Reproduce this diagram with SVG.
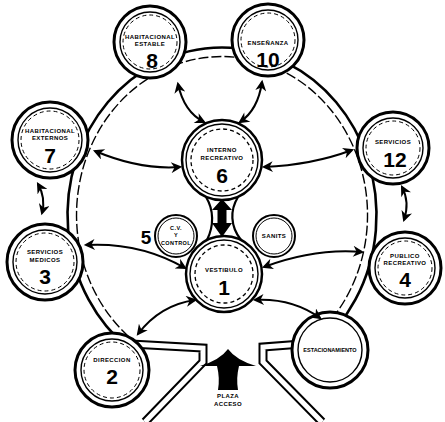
<svg xmlns="http://www.w3.org/2000/svg" width="445" height="422" viewBox="0 0 445 422">
<style>
.ro{fill:none;stroke:#000;stroke-width:2.6}
.ri{fill:none;stroke:#000;stroke-width:1.4;stroke-dasharray:10 3}
.cb{fill:none;stroke:#000;stroke-width:9;stroke-linejoin:miter}
.cw{fill:none;stroke:#fff;stroke-width:5;stroke-linejoin:miter}
.no{fill:#fff;stroke:#000;stroke-width:3}
.ni{fill:none;stroke:#000;stroke-width:1.4}
.nd{fill:none;stroke:#000;stroke-width:1;stroke-dasharray:4 3}
.lbl{font-family:"Liberation Sans",Arial,sans-serif;font-weight:bold;font-size:6px;text-anchor:middle;letter-spacing:0.4px}
.num{font-family:"Liberation Sans",Arial,sans-serif;font-weight:bold;font-size:21px;text-anchor:middle}
.arr{fill:none;stroke:#000;stroke-width:2;marker-start:url(#ah);marker-end:url(#ah)}
.neck{fill:none;stroke:#000;stroke-width:2.2}
</style>
<defs>
<marker id="ah" viewBox="0 0 10 10" refX="8" refY="5" markerWidth="12" markerHeight="11" markerUnits="userSpaceOnUse" orient="auto-start-reverse"><path d="M0,0 L10,5 L0,10 L3,5 z"/></marker>
</defs>
<g id="corridor">
<path class="ro" d="M129 348.8 A154.5 167.5 0 1 1 315 348.8"/>
<path class="ri" d="M138.5 344.8 A145.5 158.5 0 1 1 309.6 341.6"/>
<path class="cb" d="M145 422 L203 362 L203 348 L131 344"/>
<path class="cw" d="M145 422 L203 362 L203 348 L131 344"/>
<path class="cb" d="M322 422 L263 362 L263 347 L315 343"/>
<path class="cw" d="M322 422 L263 362 L263 347 L315 343"/>
</g>
<g id="n8"><circle class="no" cx="150" cy="42" r="36"/><circle class="ni" cx="150" cy="42" r="30"/><circle class="nd" cx="150" cy="42" r="27"/><text class="lbl" x="150" y="39">HABITACIONAL</text><text class="lbl" x="150" y="46">ESTABLE</text><text class="num" x="152" y="68">8</text></g>
<g id="n10"><circle class="no" cx="268" cy="40" r="36"/><circle class="ni" cx="268" cy="40" r="30"/><circle class="nd" cx="268" cy="40" r="27"/><text class="lbl" x="268" y="45">ENSEÑANZA</text><text class="num" x="268" y="67">10</text></g>
<g id="n7"><circle class="no" cx="50" cy="140" r="38"/><circle class="ni" cx="50" cy="140" r="32"/><circle class="nd" cx="50" cy="140" r="29"/><text class="lbl" x="50" y="133">HABITACIONAL</text><text class="lbl" x="50" y="140">EXTERNOS</text><text class="num" x="50" y="163">7</text></g>
<g id="n12"><circle class="no" cx="393" cy="148" r="36"/><circle class="ni" cx="393" cy="148" r="30"/><circle class="nd" cx="393" cy="148" r="27"/><text class="lbl" x="393" y="144">SERVICIOS</text><text class="num" x="395" y="167">12</text></g>
<g id="n3"><circle class="no" cx="45" cy="262" r="38"/><circle class="ni" cx="45" cy="262" r="32"/><circle class="nd" cx="45" cy="262" r="29"/><text class="lbl" x="45" y="254">SERVICIOS</text><text class="lbl" x="45" y="262">MEDICOS</text><text class="num" x="45" y="284">3</text></g>
<g id="n4"><circle class="no" cx="405" cy="268" r="36"/><circle class="ni" cx="405" cy="268" r="30"/><circle class="nd" cx="405" cy="268" r="27"/><text class="lbl" x="405" y="258">PUBLICO</text><text class="lbl" x="405" y="265">RECREATIVO</text><text class="num" x="405" y="287">4</text></g>
<g id="n2"><circle class="no" cx="112" cy="370" r="37"/><circle class="ni" cx="112" cy="370" r="31"/><circle class="nd" cx="112" cy="370" r="28"/><text class="lbl" x="112" y="362">DIRECCION</text><text class="num" x="112" y="384">2</text></g>
<g id="nest"><circle class="no" cx="330" cy="350" r="38"/><circle class="ni" cx="330" cy="350" r="32"/><text class="lbl" x="330" y="352" style="font-size:5.5px;letter-spacing:0">ESTACIONAMIENTO</text></g>
<g id="neck"><path class="neck" d="M206 197 C214 210 214 226 207 240"/><path class="neck" d="M238 197 C230 210 230 226 241 240"/></g>
<g id="n6"><circle class="no" cx="222" cy="160" r="40" style="stroke-width:2.5"/><circle class="ni" cx="222" cy="160" r="36"/><circle class="nd" cx="222" cy="160" r="31" style="stroke-width:1.3"/><text class="lbl" x="222" y="152">INTERNO</text><text class="lbl" x="222" y="160">RECREATIVO</text><text class="num" x="222" y="183">6</text></g>
<g id="n1"><circle class="no" cx="224" cy="274" r="38" style="stroke-width:2.5"/><circle class="ni" cx="224" cy="274" r="34"/><circle class="nd" cx="224" cy="274" r="29" style="stroke-width:1.3"/><text class="lbl" x="224" y="272">VESTIBULO</text><text class="num" x="224" y="295">1</text></g>
<g id="n5"><circle class="no" cx="176" cy="236" r="21" style="stroke-width:2"/><circle class="ni" cx="176" cy="236" r="18" style="stroke-width:1"/><text class="lbl" x="176" y="230" style="font-size:5.5px">C.V.</text><text class="lbl" x="176" y="237" style="font-size:5.5px">Y</text><text class="lbl" x="176" y="245" style="font-size:5.5px">CONTROL</text><text class="num" x="146" y="244" style="font-size:19px">5</text></g>
<g id="nsan"><circle class="no" cx="274" cy="236" r="21" style="stroke-width:2"/><circle class="ni" cx="274" cy="236" r="18" style="stroke-width:1"/><text class="lbl" x="274" y="238">SANITS</text></g>
<g id="connectors">
<path class="arr" d="M178 84 Q184 112 204 122"/>
<path class="arr" d="M262 82 Q258 110 240 122"/>
<path class="arr" d="M95 151 Q140 170 180 167"/>
<path class="arr" d="M352 150 Q312 165 264 167"/>
<path class="arr" d="M38 184 Q46 198 42 213"/>
<path class="arr" d="M402 187 Q410 202 404 220"/>
<path class="arr" d="M86 245 Q140 242 185 268"/>
<path class="arr" d="M362 252 Q315 248 264 267"/>
<path class="arr" d="M138 334 Q160 305 195 300"/>
<path class="arr" d="M320 318 Q292 298 255 300"/>
<path d="M222 199 L232 210 L226.5 210 L226.5 223 L232 223 L222 237 L212 223 L217.5 223 L217.5 210 L212 210 Z"/>
</g>
<g id="plaza">
<path d="M228 349 Q236 360 256 366 L239 366 Q236 378 238 390 L218 390 Q220 378 217 366 L200 366 Q220 360 228 349 Z"/>
<text class="lbl" x="228" y="398">PLAZA</text><text class="lbl" x="228" y="406">ACCESO</text>
</g>
</svg>
